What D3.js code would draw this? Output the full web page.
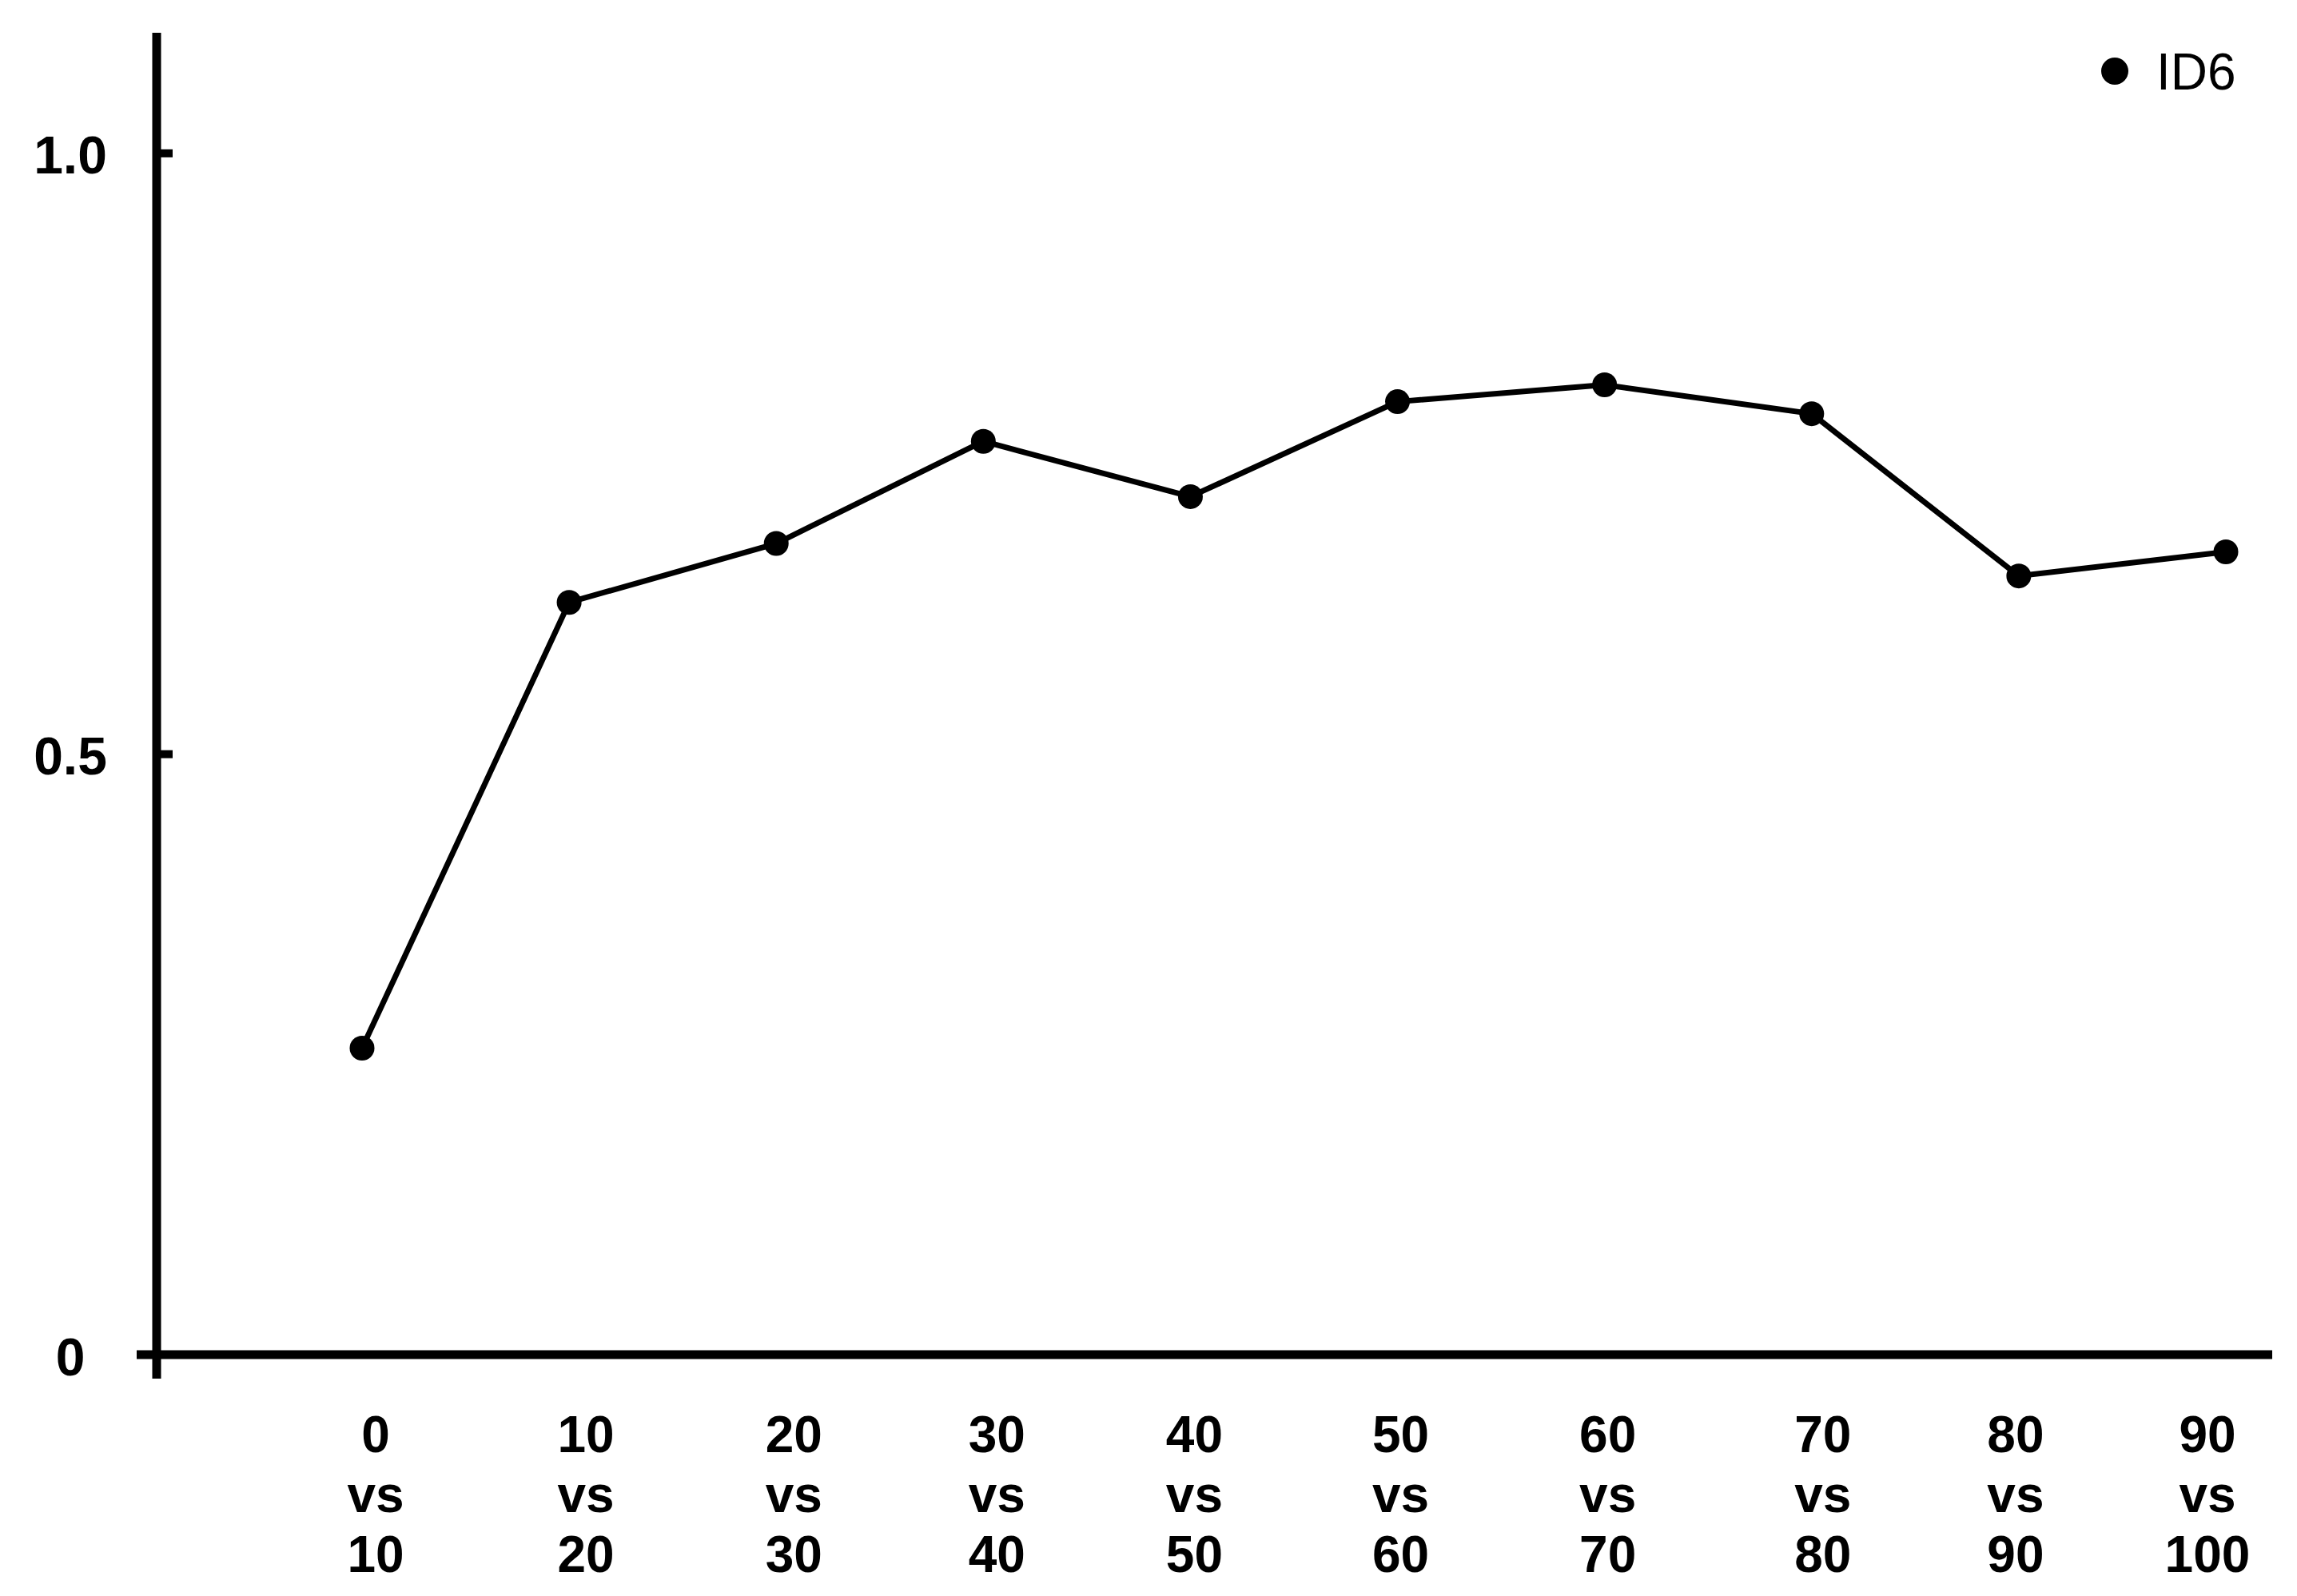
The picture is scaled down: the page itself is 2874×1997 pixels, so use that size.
<!DOCTYPE html>
<meta charset="utf-8">
<script src="https://d3js.org/d3.v7.min.js"></script>
<style>
  body { margin: 0; background: #fff; }
  text { font-family: "Liberation Sans", Arial, sans-serif; }
</style>
<div id="chart"></div>
<script>

// data
var categories = ["0 vs 10", "10 vs 20", "20 vs 30", "30 vs 40", "40 vs 50",
                  "50 vs 60", "60 vs 70", "70 vs 80", "80 vs 90", "90 vs 100"];
var id6 = [0.255, 0.626, 0.675, 0.760, 0.714, 0.793, 0.807, 0.783, 0.648, 0.668];
var yTicks = [0, 0.5, 1.0];
var yTickLabels = ["0", "0.5", "1.0"];
var seriesName = "ID6";

// the original's tick labels are not exactly under the points
var labelNudge = [17, 21, 22, 17, 5, 4, 4, 14, -4, -23];

var W = 2874, H = 1997;

var svg = d3.select("#chart")
  .append("svg")
    .attr("width", W)
    .attr("height", H);

// scales
var y = d3.scaleLinear()
  .domain([0, 1.1])
  .range([1695, 41]);

var x = d3.scalePoint()
  .domain(categories)
  .range([453, 2785]);

var axisX = 196;

// y axis: inward ticks, labels centred left of the axis
var gy = svg.append("g")
  .attr("transform", "translate(" + axisX + ",0)")
  .call(d3.axisLeft(y)
    .tickValues(yTicks)
    .tickSizeInner(-20)
    .tickSizeOuter(0)
    .tickFormat(function(d, i) { return yTickLabels[i]; }));

gy.select(".domain").remove();
gy.selectAll(".tick line")
  .attr("stroke", "#000")
  .attr("stroke-width", 10)
  .filter(function(d) { return d === 0; }).remove();
gy.selectAll(".tick text")
  .attr("x", -108)
  .attr("dy", null)
  .attr("y", 25)
  .attr("text-anchor", "middle")
  .attr("fill", "#000")
  .style("font-size", "66px")
  .style("font-weight", "bold");

// axis lines, crossing at the origin
svg.append("line")
  .attr("x1", axisX).attr("x2", axisX)
  .attr("y1", y(1.1)).attr("y2", y(0) + 30)
  .attr("stroke", "#000").attr("stroke-width", 11);

svg.append("line")
  .attr("x1", axisX - 25).attr("x2", 2843)
  .attr("y1", y(0)).attr("y2", y(0))
  .attr("stroke", "#000").attr("stroke-width", 11);

// x tick labels, three lines each
var xl = svg.append("g").selectAll("text")
  .data(categories)
  .enter().append("text")
    .attr("text-anchor", "middle")
    .attr("fill", "#000")
    .style("font-size", "64px")
    .style("font-weight", "bold");

xl.each(function(d, j) {
  var parts = d.split(" ");
  var t = d3.select(this);
  parts.forEach(function(p, i) {
    t.append("tspan")
      .attr("x", x(d) + labelNudge[j])
      .attr("y", 1817 + i * 75)
      .text(p);
  });
});

// line
var line = d3.line()
  .x(function(d, i) { return x(categories[i]); })
  .y(function(d) { return y(d); });

svg.append("path")
  .datum(id6)
  .attr("fill", "none")
  .attr("stroke", "#000")
  .attr("stroke-width", 7)
  .attr("stroke-linejoin", "round")
  .attr("d", line);

// points
svg.append("g").selectAll("circle")
  .data(id6)
  .enter().append("circle")
    .attr("cx", function(d, i) { return x(categories[i]); })
    .attr("cy", function(d) { return y(d); })
    .attr("r", 15.5)
    .attr("fill", "#000");

// legend
var lg = svg.append("g").attr("transform", "translate(2646,89)");
lg.append("circle").attr("r", 17).attr("fill", "#000");
lg.append("text")
  .attr("x", 52)
  .attr("y", 23)
  .attr("fill", "#000")
  .style("font-size", "64px")
  .text(seriesName);

</script>
